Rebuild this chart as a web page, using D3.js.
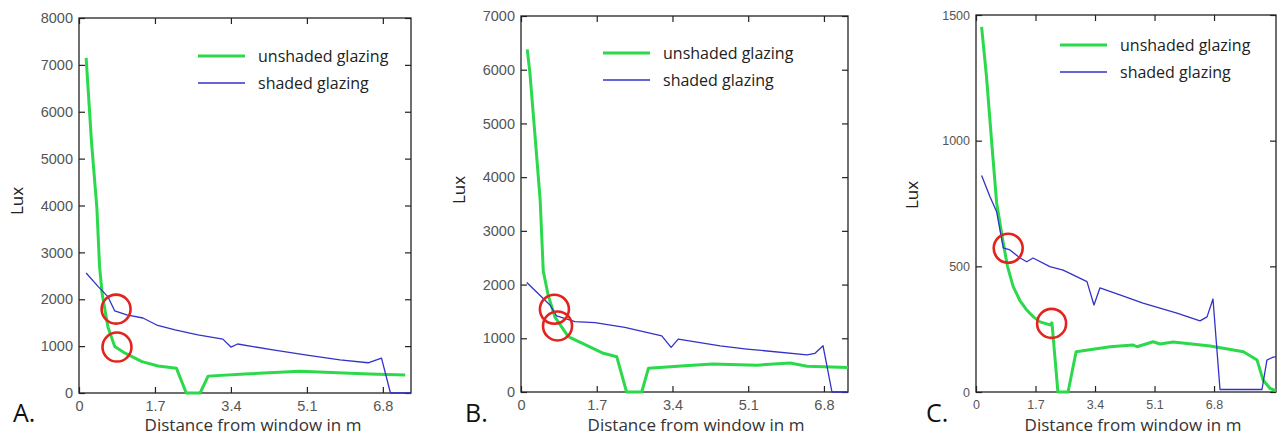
<!DOCTYPE html>
<html>
<head>
<meta charset="utf-8">
<script src="https://cdn.jsdelivr.net/npm/d3@7"></script>
<style>
  body { margin: 0; background: #fff; }
  svg { display: block; }
</style>
</head>
<body>
<svg width="1277" height="436"></svg>
<script>
// tick labels
var distTicks = [0, 1.7, 3.4, 5.1, 6.8];
var luxTicksA = [0, 1000, 2000, 3000, 4000, 5000, 6000, 7000, 8000];
var luxTicksB = [0, 1000, 2000, 3000, 4000, 5000, 6000, 7000];
var luxTicksC = [0, 500, 1000, 1500];
var panelNames = ['A.', 'B.', 'C.'];
var seriesNames = ['unshaded glazing', 'shaded glazing'];

// panel A
var distA_unshaded = [0.16, 0.28, 0.40, 0.46, 0.52, 0.65, 0.80, 1.03, 1.41, 1.77, 2.18, 2.40, 2.71, 2.89, 3.71, 4.94, 6.50, 7.30];
var luxA_unshaded  = [7150, 5350, 3950, 2700, 2100, 1400, 990, 850, 670, 575, 530, 0, 0, 360, 405, 465, 405, 385];
var distA_shaded = [0.16, 0.43, 0.65, 0.80, 1.07, 1.43, 1.74, 2.15, 2.66, 3.22, 3.40, 3.55, 4.34, 5.10, 5.84, 6.47, 6.77, 6.97, 7.43];
var luxA_shaded  = [2560, 2270, 2050, 1750, 1665, 1600, 1450, 1345, 1240, 1150, 980, 1045, 920, 810, 705, 645, 745, 0, 0];
var circlesA = [[0.83, 1790], [0.85, 980]];

// panel B
var distB_unshaded = [0.14, 0.20, 0.31, 0.43, 0.50, 0.61, 0.76, 1.06, 1.59, 1.85, 2.15, 2.37, 2.71, 2.86, 3.68, 4.30, 5.30, 6.04, 6.42, 7.34];
var luxB_unshaded  = [6380, 5940, 4820, 3575, 2250, 1800, 1400, 1030, 820, 720, 655, 0, 0, 440, 490, 520, 500, 540, 480, 455];
var distB_shaded = [0.13, 0.65, 0.80, 1.21, 1.66, 2.33, 3.16, 3.37, 3.53, 4.47, 5.07, 6.42, 6.60, 6.78, 6.98, 7.34];
var luxB_shaded  = [2040, 1620, 1415, 1310, 1290, 1205, 1045, 830, 985, 860, 800, 690, 720, 860, 0, 0];
var circlesB = [[0.75, 1540], [0.82, 1230]];

// panel C
var distC_unshaded = [0.16, 0.30, 0.45, 0.59, 0.78, 0.90, 1.06, 1.25, 1.45, 1.65, 1.83, 2.11, 2.17, 2.34, 2.63, 2.86, 3.83, 4.49, 4.60, 5.06, 5.26, 5.63, 6.69, 7.64, 8.03, 8.20, 8.40, 8.57];
var luxC_unshaded  = [1453, 1255, 990, 752, 592, 500, 420, 365, 326, 298, 279, 267, 275, 0, 0, 160, 180, 187, 180, 200, 191, 199, 183, 160, 127, 48, 14, 5];
var distC_shaded = [0.16, 0.40, 0.59, 0.78, 0.97, 1.26, 1.45, 1.63, 2.11, 2.49, 3.17, 3.37, 3.54, 4.11, 4.77, 5.74, 6.40, 6.60, 6.77, 6.97, 8.17, 8.31, 8.49, 8.57];
var luxC_shaded  = [861, 777, 717, 573, 565, 533, 518, 533, 499, 485, 439, 346, 414, 386, 354, 314, 283, 299, 370, 10, 10, 127, 139, 140];
var circlesC = [[0.92, 572], [2.16, 273]];

var board = d3.select('svg');
var green = '#2bd94b', blue = '#3232c8', red = '#e3231d';
var fontText = '"Open Sans", "Noto Sans", sans-serif';
var fontTick = '"Liberation Sans", Arial, sans-serif';

var drawPanel = function(p) {
  var g = board.append('g');
  var x = d3.scaleLinear().domain([0, p.xMax]).range([p.left, p.right]);
  var y = d3.scaleLinear().domain([0, p.yMax]).range([p.bottom, p.top]);

  var styleAxis = function(sel) {
    sel.select('.domain').remove();
    sel.selectAll('line').attr('stroke', '#222').attr('stroke-width', 1.2);
    sel.selectAll('text').attr('fill', '#555').style('font-family', fontTick).style('font-size', p.tickFont + 'px');
  };

  g.append('g').attr('transform', 'translate(0,' + p.bottom + ')')
    .call(d3.axisBottom(x).tickValues(distTicks).tickFormat(d3.format('')).tickSizeInner(-6).tickSizeOuter(0).tickPadding(8))
    .call(styleAxis);
  g.append('g').attr('transform', 'translate(0,' + p.top + ')')
    .call(d3.axisTop(x).tickValues(distTicks).tickFormat('').tickSizeInner(-6).tickSizeOuter(0))
    .call(styleAxis);
  g.append('g').attr('transform', 'translate(' + p.left + ',0)')
    .call(d3.axisLeft(y).tickValues(p.yTicks).tickFormat(d3.format('')).tickSizeInner(-6).tickSizeOuter(0).tickPadding(6))
    .call(styleAxis);
  g.append('g').attr('transform', 'translate(' + p.right + ',0)')
    .call(d3.axisRight(y).tickValues(p.yTicks).tickFormat('').tickSizeInner(-6).tickSizeOuter(0))
    .call(styleAxis);

  g.append('rect')
    .attr('x', p.left).attr('y', p.top)
    .attr('width', p.right - p.left).attr('height', p.bottom - p.top)
    .attr('fill', 'none').attr('stroke', '#222').attr('stroke-width', 1.3);

  var line = d3.line().x(function(d) { return x(d[0]); }).y(function(d) { return y(d[1]); });
  var pairs = function(xs, ys) { return xs.map(function(v, i) { return [v, ys[i]]; }); };

  g.append('path').datum(pairs(p.unX, p.unY)).attr('d', line)
    .attr('fill', 'none').attr('stroke', green).attr('stroke-width', 3).attr('stroke-linejoin', 'round');
  g.append('path').datum(pairs(p.shX, p.shY)).attr('d', line)
    .attr('fill', 'none').attr('stroke', blue).attr('stroke-width', 1.3).attr('stroke-linejoin', 'round');

  g.selectAll('circle.mark').data(p.circles).enter().append('circle')
    .attr('cx', function(d) { return x(d[0]); })
    .attr('cy', function(d) { return y(d[1]); })
    .attr('r', 14.5)
    .attr('fill', 'none').attr('stroke', red).attr('stroke-width', 2.6);

  // legend
  var legend = g.selectAll('g.leg').data(seriesNames).enter().append('g')
    .attr('transform', function(d, i) { return 'translate(' + p.legX + ',' + (p.legY + i * 27) + ')'; });
  legend.append('line').attr('x1', 0).attr('x2', 47).attr('y1', 0).attr('y2', 0)
    .attr('stroke', function(d, i) { return i === 0 ? green : blue; })
    .attr('stroke-width', function(d, i) { return i === 0 ? 3 : 1.3; });
  legend.append('text').attr('x', 60).attr('y', 6)
    .style('font-family', fontText).style('font-size', '16px').attr('fill', '#222')
    .text(function(d) { return d; });

  // titles
  g.append('text').attr('x', p.xTitleX).attr('y', 431).attr('text-anchor', 'middle')
    .style('font-family', fontText).style('font-size', '17px').attr('fill', '#333')
    .text('Distance from window in m');
  g.append('text').attr('transform', 'translate(' + p.yTitleX + ',' + p.yTitleY + ') rotate(-90)')
    .attr('text-anchor', 'middle')
    .style('font-family', fontText).style('font-size', '17px').attr('fill', '#222')
    .text('Lux');
  g.append('text').attr('x', p.nameX).attr('y', 422)
    .style('font-family', fontText).style('font-size', '25px').attr('fill', '#111')
    .text(p.name);
};

drawPanel({ name: panelNames[0], left: 79, right: 411, top: 18, bottom: 393, xMax: 7.43, yMax: 8000,
  yTicks: luxTicksA, tickFont: 14.5, unX: distA_unshaded, unY: luxA_unshaded, shX: distA_shaded, shY: luxA_shaded,
  circles: circlesA, legX: 198, legY: 56, xTitleX: 253, yTitleX: 23, yTitleY: 201, nameX: 13 });
drawPanel({ name: panelNames[1], left: 521, right: 848, top: 16, bottom: 392, xMax: 7.34, yMax: 7000,
  yTicks: luxTicksB, tickFont: 14.5, unX: distB_unshaded, unY: luxB_unshaded, shX: distB_shaded, shY: luxB_shaded,
  circles: circlesB, legX: 603, legY: 53, xTitleX: 696, yTitleX: 465, yTitleY: 190, nameX: 465 });
drawPanel({ name: panelNames[2], left: 976, right: 1276, top: 15, bottom: 392, xMax: 8.57, yMax: 1500,
  yTicks: luxTicksC, tickFont: 12.5, unX: distC_unshaded, unY: luxC_unshaded, shX: distC_shaded, shY: luxC_shaded,
  circles: circlesC, legX: 1060, legY: 45, xTitleX: 1133, yTitleX: 918, yTitleY: 195, nameX: 926 });
</script>
</body>
</html>
